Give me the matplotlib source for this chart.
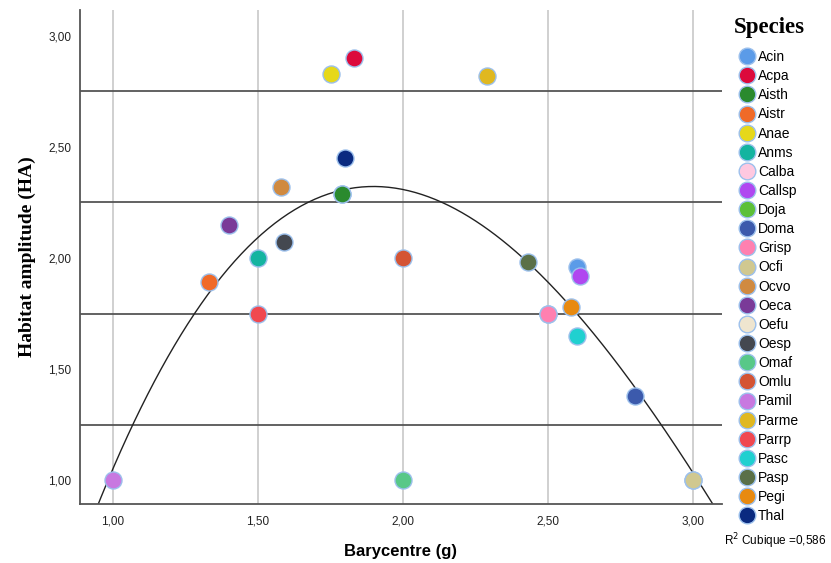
import numpy as np
import matplotlib
matplotlib.use("Agg")
import matplotlib.pyplot as plt
from matplotlib.lines import Line2D

species = ["Acin", "Acpa", "Aisth", "Aistr", "Anae", "Anms", "Calba", "Callsp",
           "Doja", "Doma", "Grisp", "Ocfi", "Ocvo", "Oeca", "Oefu", "Oesp",
           "Omaf", "Omlu", "Pamil", "Parme", "Parrp", "Pasc", "Pasp", "Pegi", "Thal"]
barycentre = [2.60, 1.83, 1.79, 1.33, 1.75, 1.50, 2.50, 2.61,
              1.79, 2.80, 2.50, 3.00, 1.58, 1.40, 3.00, 1.59,
              2.00, 2.00, 1.00, 2.29, 1.50, 2.60, 2.43, 2.58, 1.80]
amplitude = [1.96, 2.90, 2.29, 1.89, 2.83, 2.00, 1.75, 1.92,
             2.29, 1.38, 1.75, 1.00, 2.32, 2.15, 1.00, 2.07,
             1.00, 2.00, 1.00, 2.82, 1.75, 1.65, 1.98, 1.78, 2.45]
colors = ["#5b9be8", "#dc0a3c", "#2a8a2e", "#f06a28", "#e6d81a", "#14b4a0", "#ffc8e0", "#b048f0",
          "#5cc038", "#3c5aac", "#ff80b0", "#d0c890", "#d08a40", "#7a3a98", "#efe5cf", "#444850",
          "#58c888", "#d45434", "#c878e0", "#e0b820", "#f04850", "#20d0d0", "#5a7048", "#e88a10",
          "#0a2a80"]
# draw order so hidden points sit underneath
draw_order = ["Doja", "Calba", "Oefu"]
ref_lines = [1.25, 1.75, 2.25, 2.75]
x_ticks = [1.0, 1.5, 2.0, 2.5, 3.0]
y_ticks = [1.0, 1.5, 2.0, 2.5, 3.0]
r2_text = "R$^2$ Cubique =0,586"

fig = plt.figure(figsize=(8.31, 5.63), dpi=100)
ax = fig.add_axes([80 / 831, 59 / 563, 642 / 831, 494 / 563])

for v in x_ticks:
    ax.axvline(v, color="#c8c8c8", lw=1.2, zorder=0)
for h in ref_lines:
    ax.axhline(h, color="#555555", lw=1.3, zorder=1)

x = np.array(barycentre)
y = np.array(amplitude)
coef = np.polyfit(x, y, 3)
xs = np.linspace(0.85, 3.15, 300)
ax.plot(xs, np.polyval(coef, xs), color="#222222", lw=1.0, zorder=2)

order = [species.index(s) for s in draw_order] + [i for i, s in enumerate(species) if s not in draw_order]
for i in order:
    ax.scatter(x[i], y[i], s=150, color=colors[i], edgecolor="#9cc0ec", linewidth=1.0, zorder=3)

ax.set_xlim(0.886, 3.10)
ax.set_ylim(0.892, 3.117)
ax.set_xticks(x_ticks)
ax.set_yticks(y_ticks)
ax.set_xticklabels([f"{v:.2f}".replace(".", ",") for v in x_ticks], fontsize=8.5, family="Liberation Sans")
ax.set_yticklabels([f"{v:.2f}".replace(".", ",") for v in y_ticks], fontsize=8.5, family="Liberation Sans")
ax.tick_params(axis="x", length=0, pad=8, colors="#222222")
ax.tick_params(axis="y", length=0, pad=6, colors="#222222")
for s in ["top", "right"]:
    ax.spines[s].set_visible(False)
for s in ["left", "bottom"]:
    ax.spines[s].set_color("#555555")
    ax.spines[s].set_linewidth(1.3)

ax.set_xlabel("Barycentre (g)", fontsize=12, fontweight="bold", family="Liberation Sans", labelpad=12)
ax.set_ylabel("Habitat amplitude (HA)", fontsize=14, fontweight="bold", family="Liberation Serif", labelpad=9)

fig.text(769 / 831, 1 - 28 / 563, "Species", fontsize=16.5, fontweight="bold",
         family="Liberation Serif", ha="center", va="center")
handles = [Line2D([], [], marker="o", linestyle="", markersize=12, markerfacecolor=c,
                  markeredgecolor="#9cc0ec", markeredgewidth=1.0) for c in colors]
leg = fig.legend(handles, species, loc="upper left", bbox_to_anchor=(733 / 831, 1 - 43 / 563),
                 frameon=False, handlelength=1.0, handletextpad=0.3,
                 labelspacing=0.37, prop={"family": "Liberation Sans", "size": 10}, borderpad=0)

fig.text(724 / 831, 1 - 541 / 563, r2_text, fontsize=8.5, family="Liberation Sans", va="center")

fig.savefig("out.png", dpi=100)
